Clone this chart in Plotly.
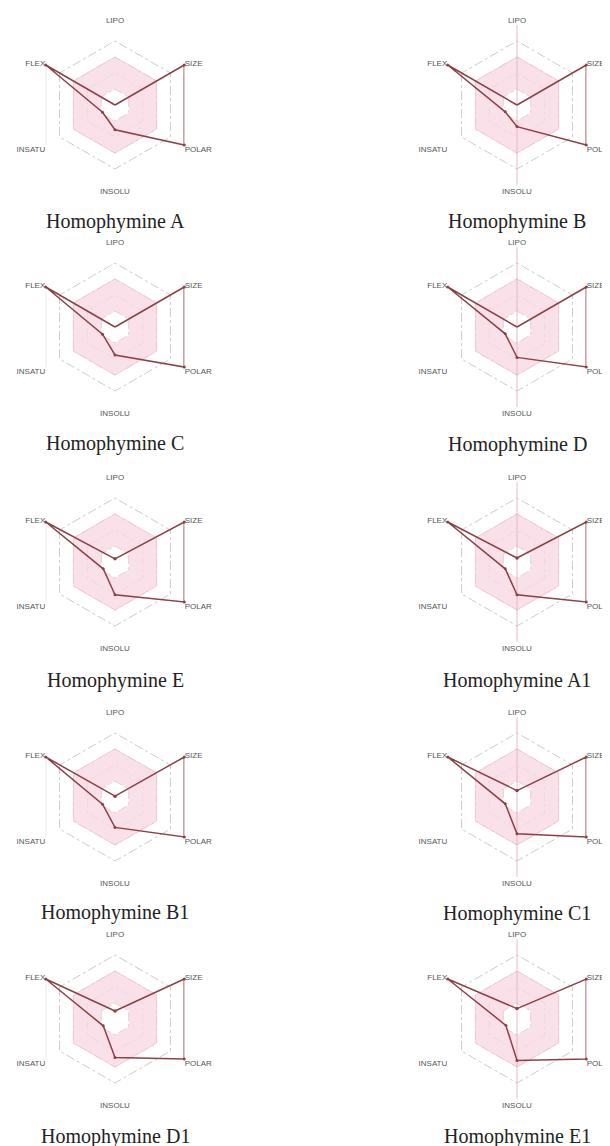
import plotly.graph_objects as go

# the page body adds an 8 px margin, so the figure is drawn 8 px in from the window edge
PAGE_OFFSET = 8
W, H = 610 - PAGE_OFFSET, 1146 - PAGE_OFFSET

axes_labels = ["LIPO", "SIZE", "POLAR", "INSOLU", "INSATU", "FLEX"]
compounds = ["Homophymine A", "Homophymine B", "Homophymine C", "Homophymine D",
             "Homophymine E", "Homophymine A1", "Homophymine B1", "Homophymine C1",
             "Homophymine D1", "Homophymine E1"]

# normalized radar values, order: LIPO, SIZE, POLAR, INSOLU, INSATU, FLEX
lipo   = [0.00, 0.00, 0.00, 0.00, 0.04, 0.05, 0.01, 0.08, 0.10, 0.13]
size   = [1.0] * 10
polar  = [1.0] * 10
insolu = [0.31, 0.27, 0.35, 0.38, 0.41, 0.41, 0.38, 0.46, 0.48, 0.52]
insatu = [0.18, 0.17, 0.18, 0.17, 0.17, 0.17, 0.18, 0.17, 0.17, 0.16]
flex   = [1.0] * 10

# optimal (pink) band limits
band_inner = 0.2
band_outer = 0.6
grid_vals = [0.2, 0.4, 0.6, 0.8, 1.0]

# panel centres and title positions (window pixels)
col_x = [115, 517]
row_y = [105, 327, 562, 797, 1019]
title_y_left = [222, 443, 680, 912, 1136]
title_y_right = [222, 445, 680, 913, 1136]
R = 80

LINE = "#8c4148"
PINK = "rgba(249,218,228,0.8)"
PINK_EDGE = "#f0c6d1"
GRID = "#cccccc"


def px_x(x):
    return (x - PAGE_OFFSET) / W


def px_y(y):
    return 1 - (y - PAGE_OFFSET) / H


fig = go.Figure()
layout_updates = {}
annotations = []

closed_cats = axes_labels + [axes_labels[0]]

for i, name in enumerate(compounds):
    col = i % 2
    row = i // 2
    cx, cy = col_x[col], row_y[row]
    pid = "polar" if i == 0 else f"polar{i+1}"
    sub = pid

    layout_updates[pid] = dict(
        domain=dict(x=[px_x(cx - R), px_x(cx + R)],
                    y=[px_y(cy + R), px_y(cy - R)]),
        gridshape="linear",
        bgcolor="rgba(0,0,0,0)",
        radialaxis=dict(range=[0, 1], tickvals=grid_vals, showticklabels=False,
                        showline=False, ticks="", gridcolor=GRID, griddash="dashdot",
                        gridwidth=0.8),
        angularaxis=dict(rotation=90, direction="clockwise", showgrid=False,
                         showline=False, ticks="",
                         tickfont=dict(family="Liberation Sans, Arial", size=8, color="#555555")),
    )

    # pink optimal band (outer hexagon with inner hole)
    band_r = [band_outer] * 7 + [band_inner] * 7
    band_t = closed_cats + closed_cats[::-1]
    fig.add_trace(go.Scatterpolar(r=band_r, theta=band_t, mode="lines", fill="toself",
                                  fillcolor=PINK, line=dict(width=0), hoverinfo="skip",
                                  showlegend=False, subplot=sub))
    fig.add_trace(go.Scatterpolar(r=[band_outer] * 7, theta=closed_cats, mode="lines",
                                  line=dict(color=PINK_EDGE, width=0.8), hoverinfo="skip",
                                  showlegend=False, subplot=sub))
    # thin guide lines seen in the original scan
    if col == 0:
        fig.add_trace(go.Scatterpolar(r=[1, 1], theta=["FLEX", "INSATU"], mode="lines",
                                      line=dict(color="#c4c4c4", width=0.8), hoverinfo="skip",
                                      showlegend=False, subplot=sub))
    else:
        fig.add_trace(go.Scatterpolar(r=[1, 0, 1], theta=["LIPO", "LIPO", "INSOLU"], mode="lines",
                                      line=dict(color="#e2b5c0", width=0.9), hoverinfo="skip",
                                      showlegend=False, subplot=sub))

    vals = [lipo[i], size[i], polar[i], insolu[i], insatu[i], flex[i]]
    fig.add_trace(go.Scatterpolar(r=vals + [vals[0]], theta=closed_cats, mode="lines+markers",
                                  line=dict(color=LINE, width=1.5),
                                  marker=dict(size=3, color=LINE),
                                  showlegend=False, subplot=sub, name=name))

    ty = title_y_left[row] if col == 0 else title_y_right[row]
    annotations.append(dict(text=name, x=px_x(cx), y=px_y(ty), xref="paper", yref="paper",
                            xanchor="center", yanchor="middle", showarrow=False,
                            font=dict(family="Liberation Serif, Times New Roman, serif",
                                      size=20, color="#222222")))

fig.update_layout(width=W, height=H, margin=dict(l=0, r=0, t=0, b=0),
                  paper_bgcolor="white", plot_bgcolor="white",
                  annotations=annotations, **layout_updates)

fig.write_html("out.html")
